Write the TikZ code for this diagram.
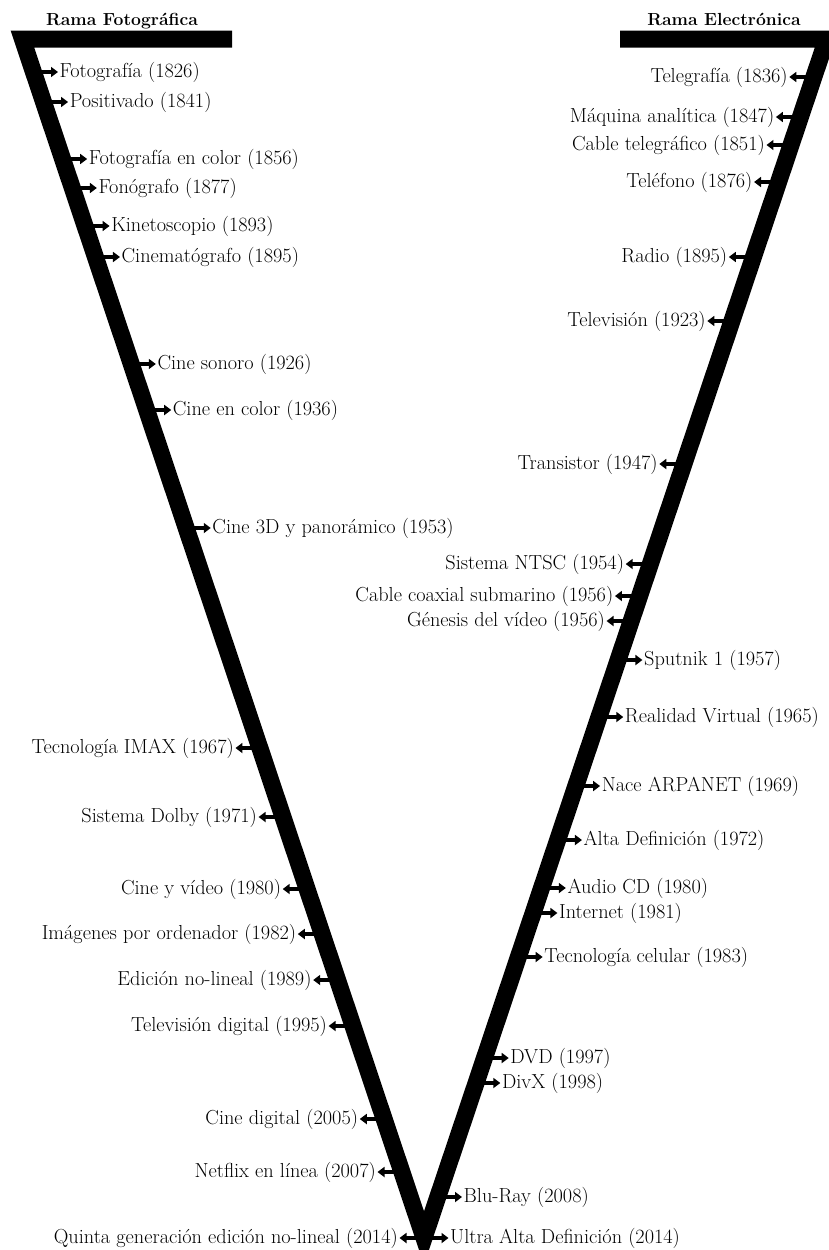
\documentclass[tikz,border=0pt]{standalone}
\usepackage{fontspec}
\usetikzlibrary{arrows.meta}
\tikzset{
  evt/.style={inner sep=1.5pt,font=\fontsize{20.3}{24}\selectfont},
  ptr/.style={line width=3.6pt,-{Triangle[length=7pt,width=10pt]}},
  rama/.style={anchor=base,font=\fontsize{17.5}{21}\selectfont\bfseries}
}
\begin{document}
\begin{tikzpicture}[x=1pt,y=-1pt]
\useasboundingbox (0,0) rectangle (828,1250);
% la V
\coordinate (lbar) at (232,39);
\coordinate (tl) at (22.4,39);
\coordinate (tip) at (424,1238);
\coordinate (tr) at (826.6,39);
\coordinate (rbar) at (620,39);
\draw[line width=17pt,line join=miter] (lbar) -- (tl) -- (tip) -- (tr) -- (rbar);
\node[rama] (foto) at (122,25) {Rama Fotográfica};
\node[rama] (elec) at (724,25) {Rama Electrónica};
% rama izquierda
\foreach \y/\txt [count=\i] in {72/Fotografía (1826),102/Positivado (1841),
  159/Fotografía en color (1856),188/Fonógrafo (1877),226/Kinetoscopio (1893),
  257/Cinematógrafo (1895),364/Cine sonoro (1926),410/Cine en color (1936),
  528/Cine 3D y panorámico (1953)} {
  \pgfmathsetmacro\xc{33.5+0.335*(\y-72)}
  \coordinate (fa\i) at (\xc,\y);
  \node[evt,anchor=west] (f\i) at ([xshift=24.5pt]fa\i) {\txt};
  \draw[ptr] (fa\i) -- (f\i.west);
}
\foreach \y/\txt [count=\i] in {748/Tecnología IMAX (1967),817/Sistema Dolby (1971),
  889/Cine y vídeo (1980),934/Imágenes por ordenador (1982),
  980/Edición no-lineal (1989),1026/Televisión digital (1995),
  1119/Cine digital (2005),1172/Netflix en línea (2007)} {
  \pgfmathsetmacro\xc{33.5+0.335*(\y-72)}
  \coordinate (fb\i) at (\xc,\y);
  \node[evt,anchor=east] (g\i) at ([xshift=-24.5pt]fb\i) {\txt};
  \draw[ptr] (fb\i) -- (g\i.east);
}
% rama derecha
\foreach \y/\txt [count=\i] in {77/Telegrafía (1836),117/Máquina analítica (1847),
  145/Cable telegráfico (1851),182/Teléfono (1876),257/Radio (1895),
  321/Televisión (1923),464/Transistor (1947),564/Sistema NTSC (1954),
  596/Cable coaxial submarino (1956),621/Génesis del vídeo (1956)} {
  \pgfmathsetmacro\xc{436.5+0.336*(1200-\y)}
  \coordinate (ea\i) at (\xc,\y);
  \node[evt,anchor=east] (e\i) at ([xshift=-24.5pt]ea\i) {\txt};
  \draw[ptr] (ea\i) -- (e\i.east);
}
\foreach \y/\txt [count=\i] in {660/Sputnik 1 (1957),717/Realidad Virtual (1965),
  786/Nace ARPANET (1969),840/Alta Definición (1972),888/Audio CD (1980),
  913/Internet (1981),957/Tecnología celular (1983),1058/DVD (1997),
  1083/DivX (1998),1197/Blu-Ray (2008)} {
  \pgfmathsetmacro\xc{436.5+0.336*(1200-\y)}
  \coordinate (eb\i) at (\xc,\y);
  \node[evt,anchor=west] (h\i) at ([xshift=24.5pt]eb\i) {\txt};
  \draw[ptr] (eb\i) -- (h\i.west);
}
% vértice
\node[evt,anchor=east] (quinta) at ([xshift=-24.5pt]tip) {Quinta generación edición no-lineal (2014)};
\node[evt,anchor=west] (uhd) at ([xshift=24.5pt]tip) {Ultra Alta Definición (2014)};
\draw[ptr] (tip) -- (quinta.east);
\draw[ptr] (tip) -- (uhd.west);
\end{tikzpicture}
\end{document}
